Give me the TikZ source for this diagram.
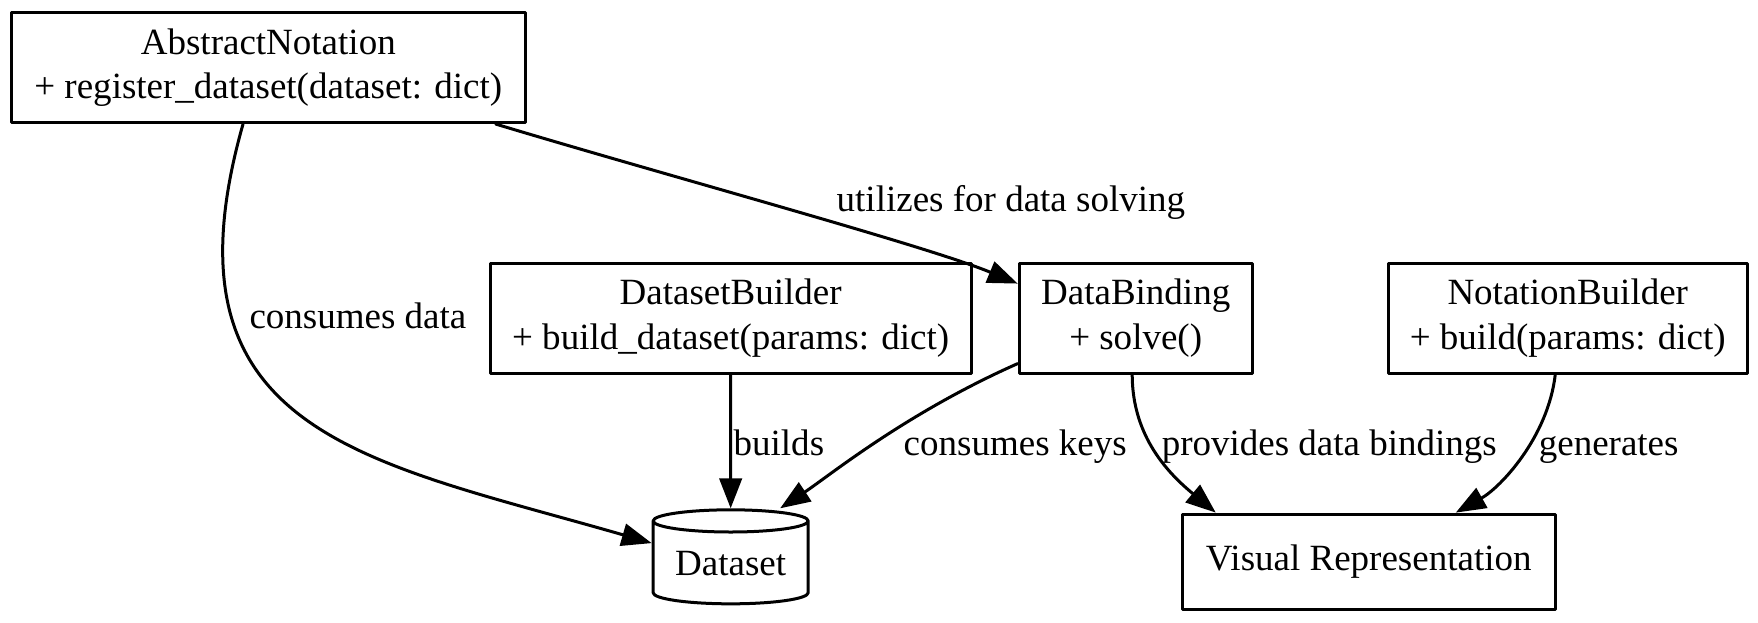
\documentclass[tikz,border=0pt]{standalone}
\usepackage{fontspec}
\setmainfont{Liberation Serif}
\usetikzlibrary{arrows.meta,shapes.geometric}

\begin{document}
\begin{tikzpicture}[
    font=\fontsize{14.8pt}{17.8pt}\selectfont,
    line cap=round,
    line join=round,
    >={Triangle[length=12pt,width=9pt]},   % arrow tip style
    line width=1.2pt,
    classbox/.style={draw, rectangle, align=center, inner sep=0pt, minimum height=44pt},
    datastore/.style={draw, cylinder, shape border rotate=90, aspect=0.2, inner sep=0pt,
                      minimum width=62pt, minimum height=37.6pt},
    edgelabel/.style={anchor=base west, inner sep=0pt}
]

% page size of the reference
\useasboundingbox (0,0) rectangle (24.71,-8.745);

%-----------------------
% 1) CLASS BOXES
%-----------------------
\node[classbox, minimum width=205.4pt] (abstractnotation) at (3.771,-0.949)
    {AbstractNotation\\+ register\_dataset(dataset: dict)};
\node[classbox, minimum width=192.4pt] (datasetbuilder) at (10.270,-4.471)
    {DatasetBuilder\\+ build\_dataset(params: dict)};
\node[classbox, minimum width=93.2pt] (databinding) at (15.963,-4.471)
    {DataBinding\\+ solve()};
\node[classbox, minimum width=143.6pt] (notationbuilder) at (22.036,-4.471)
    {NotationBuilder\\+ build(params: dict)};

%-----------------------
% 2) STORE AND OUTPUT
%-----------------------
\node[datastore] (dataset) at (10.270,-7.915) {Dataset};
\node[classbox, minimum width=149.2pt, minimum height=38pt] (visualrep) at (19.239,-7.894)
    {Visual Representation};

%-----------------------
% 3) CONNECTORS
%-----------------------
% AbstractNotation bends down and round into the store
\draw[->] ([xshift=-10.1pt]abstractnotation.south)
    .. controls (2.18,-6.10) and (5.13,-6.47) .. ([yshift=8pt]dataset.west);
\draw[->] ([xshift=-12.4pt]abstractnotation.south east)
    .. controls (9.405,-2.478) and (13.032,-3.458) .. ([yshift=-8.8pt]databinding.north west);
\draw[->] (datasetbuilder) -- (dataset);
\draw[->] ([yshift=4.4pt]databinding.south west)
    .. controls (12.726,-5.810) and (11.651,-6.692) .. ([xshift=19.8pt]dataset.north);
\draw[->] ([xshift=-1.4pt]databinding.south)
    .. controls (15.914,-6.151) and (16.441,-6.669) .. ([xshift=14pt]visualrep.north west);
\draw[->] ([xshift=-5pt]notationbuilder.south)
    .. controls (21.756,-6.151) and (21.088,-6.853) .. ([xshift=-40.4pt]visualrep.north east);

%-----------------------
% 4) EDGE LABELS
%-----------------------
\node[edgelabel] (lblconsumesdata) at (3.486,-4.611) {consumes data};
\node[edgelabel] (lblutilizes) at (11.739,-2.977) {utilizes for data solving};
\node[edgelabel] (lblbuilds) at (10.291,-6.40) {builds};
\node[edgelabel] (lblconsumeskeys) at (12.681,-6.40) {consumes keys};
\node[edgelabel] (lblprovides) at (16.308,-6.40) {provides data bindings};
\node[edgelabel] (lblgenerates) at (21.608,-6.40) {generates};

\end{tikzpicture}
\end{document}
